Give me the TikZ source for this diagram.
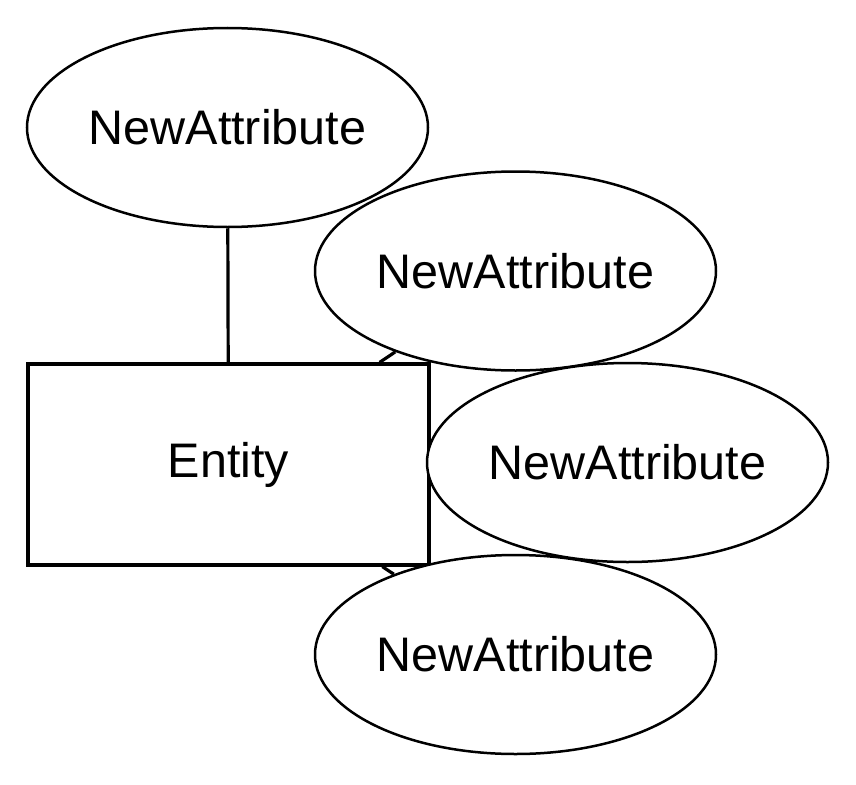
\documentclass[tikz,border=0pt]{standalone}
\usepackage{fontspec}
\setmainfont{Liberation Sans}
\usetikzlibrary{shapes.geometric}
\tikzset{
  attr/.style={ellipse, draw, line width=2.5pt, fill=white, minimum width=401pt, minimum height=199pt, inner sep=0pt, font=\fontsize{48.5}{58}\selectfont},
  ent/.style={rectangle, draw, line width=3.2pt, fill=white, minimum width=401pt, minimum height=201pt, inner sep=0pt, font=\fontsize{48.5}{58}\selectfont},
  conn/.style={line width=3.2pt}
}
\begin{document}
\begin{tikzpicture}[x=1pt,y=-1pt]
\useasboundingbox (0,0) rectangle (856,784);
\node[ent] (r) at (228.5,464.5) {Entity};
\node[attr] (a1) at (227.5,127.5) {NewAttribute};
\node[attr] (a2) at (515.5,271) {NewAttribute};
\node[attr] (a3) at (627.5,462.5) {NewAttribute};
\node[attr] (a4) at (515.5,654.5) {NewAttribute};
\draw[conn] (a1) -- (r);
\draw[conn] (a2) -- (r);
\draw[conn] (a4) -- (r);
\end{tikzpicture}
\end{document}
